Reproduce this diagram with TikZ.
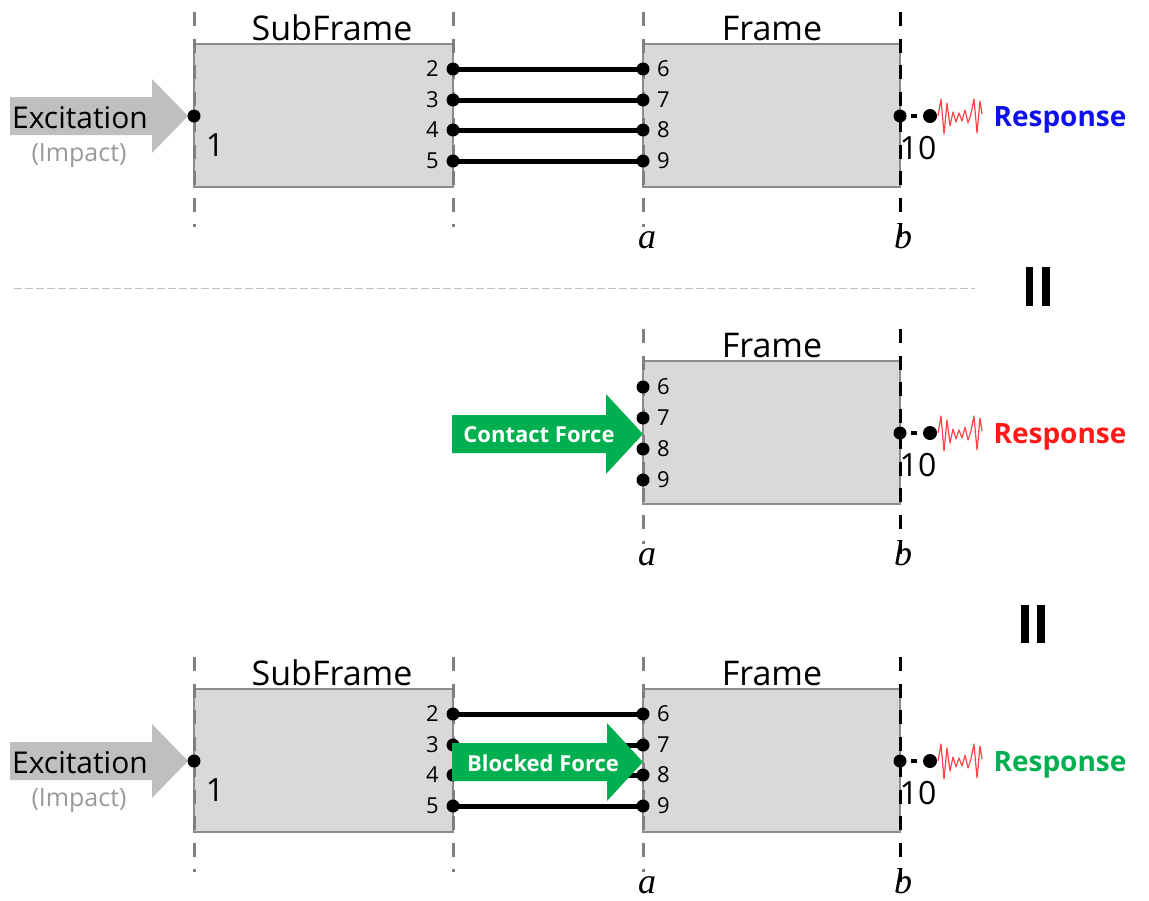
\documentclass[tikz,border=0pt]{standalone}
\usepackage{fontspec}
\setmainfont{Open Sans}
\newfontfamily\axfont{Liberation Serif}
\usetikzlibrary{calc}

\definecolor{boxfill}{HTML}{D9D9D9}
\definecolor{boxline}{HTML}{8C8C8C}
\definecolor{guide}{HTML}{808080}
\definecolor{excite}{HTML}{BFBFBF}
\definecolor{impact}{HTML}{999999}
\definecolor{force}{HTML}{00B050}
\definecolor{respblue}{HTML}{1010EE}
\definecolor{respred}{HTML}{FF1A1A}
\definecolor{wavered}{HTML}{FF4545}
\definecolor{sepline}{HTML}{C0C0C0}

\newcommand\fs[1]{\fontsize{#1}{#1}\selectfont}

\tikzset{
  blk/.style={draw=boxline, fill=boxfill, line width=2pt, minimum height=143pt, inner sep=0pt},
  title/.style={anchor=base, inner sep=0pt, font=\fs{34}},
  port/.style={circle, fill=black, inner sep=0pt, minimum size=13pt},
  tipdot/.style={circle, fill=black, inner sep=0pt, minimum size=14pt},
  num/.style={inner sep=0pt, font=\fs{22}},
  bignum/.style={inner sep=0pt, font=\fs{32}},
  link/.style={line width=5pt},
  tie/.style={line width=4pt, dash pattern=on 0pt off 4.5pt on 6pt off 4.5pt},
  guidegray/.style={draw=guide, line width=3pt, dash pattern=on 14pt off 12.5pt},
  guideblack/.style={draw=black, line width=3pt, dash pattern=on 14pt off 12.5pt},
  wave/.style={draw=wavered, line width=1.2pt, line join=round},
  resp/.style={anchor=base, inner sep=0pt, font=\fs{28}\bfseries},
  ax/.style={anchor=base, inner sep=0pt, font=\fs{36}\axfont\itshape},
  arrowtext/.style={inner sep=0pt, text=white, font=\fs{22}\bfseries},
  exc/.style={anchor=base, inner sep=0pt, font=\fs{30}},
  imp/.style={anchor=base, inner sep=0pt, font=\fs{25}, text=impact},
}

% vibration trace starting at a given coordinate
\newcommand\wiggle[1]{%
  \draw[wave] (#1) -- +(3,-17) -- +(6,18) -- +(9,-13) -- +(12,10) -- +(15,-4)
    -- +(18,6) -- +(21,-3) -- +(24,5) -- +(27,-6) -- +(30,7) -- +(33,-2)
    -- +(36,-17) -- +(39,17) -- +(42,-15) -- +(44,-2);}

% measured output at point 10 of the frame
\newcommand\response[2]{% #1 tag, #2 colour
  \node[port] (o10#1) at (900,116) {};
  \node[tipdot] (m#1) at (930,116) {};
  \draw[tie] (o10#1) -- (m#1);
  \coordinate (w#1) at (938,116);
  \wiggle{w#1}
  \node[resp, text=#2] (r#1) at (1060,126) {Response};
  \node[bignum] (n10#1) at (918,148) {10};}

% subframe coupled to frame through points 2-5 / 6-9
\newcommand\assembly[3]{% #1 tag, #2 vertical offset, #3 response colour
\begin{scope}[shift={(0,#2)}]
  \node[blk, minimum width=259pt] (sub#1) at (323.5,115.5) {};
  \node[blk, minimum width=257pt] (frm#1) at (771.5,115.5) {};
  \draw[guidegray] (194,12) -- (194,227);
  \draw[guidegray] (453,12) -- (453,227);
  \draw[guidegray] (643,12) -- (643,227);
  \draw[guideblack] (900,12) -- (900,237);
  \node[title] (subt#1) at (332,40) {SubFrame};
  \node[title] (frmt#1) at (772,40) {Frame};
  \fill[excite] (10,97) -- (152,97) -- (152,79) -- (188,116) -- (152,153)
    -- (152,135) -- (10,135) -- cycle;
  \node[exc] (ex#1) at (80,128) {Excitation};
  \node[imp] (im#1) at (79,161) {(Impact)};
  \node[port] (in#1) at (194,116) {};
  \node[bignum] (n1#1) at (215,145) {1};
  \foreach \k/\m/\y in {2/6/69,3/7/100,4/8/130,5/9/161}{
    \node[port] (s\k#1) at (453,\y) {};
    \node[port] (f\m#1) at (643,\y) {};
    \draw[link] (s\k#1.center) -- (f\m#1.center);
    \node[num, anchor=east] (ls\k#1) at (439,\y) {\k};
    \node[num, anchor=west] (lf\m#1) at (657,\y) {\m};
  }
  \response{#1}{#3}
  \node[ax] (a#1) at (647,248) {a};
  \node[ax] (b#1) at (903,248) {b};
\end{scope}}

\begin{document}
\begin{tikzpicture}[x=1pt, y=-1pt]
\useasboundingbox (0,0) rectangle (1149,900);

% full assembly
\assembly{A}{0}{respblue}

% divider and equivalence marks
\draw[sepline, line width=1pt, dash pattern=on 8pt off 3pt] (14,288) -- (975,288);
\fill (1026,267) rectangle (1033,306);
\fill (1042,267) rectangle (1050,306);
\fill (1021,605) rectangle (1029,643);
\fill (1037,605) rectangle (1045,643);

% frame alone, loaded by the contact force
\begin{scope}[shift={(0,317)}]
  \node[blk, minimum width=257pt] (frmB) at (771.5,115.5) {};
  \draw[guidegray] (643,12) -- (643,227);
  \draw[guideblack] (900,12) -- (900,237);
  \node[title] (frmtB) at (772,40) {Frame};
  \foreach \m/\y in {6/70,7/101,8/132,9/163}{
    \node[port] (f\m B) at (643,\y) {};
    \node[num, anchor=west] (lf\m B) at (657,\y) {\m};
  }
  \fill[force] (452,98) -- (606,98) -- (606,77) -- (643,117) -- (606,157)
    -- (606,136) -- (452,136) -- cycle;
  \node[arrowtext] (cf) at (539,118) {Contact Force};
  \response{B}{respred}
  \node[ax] (aB) at (647,248) {a};
  \node[ax] (bB) at (903,248) {b};
\end{scope}

% assembly with the blocked force
\assembly{C}{645}{force}
\fill[force] (452,743) -- (607,743) -- (607,723) -- (643,762) -- (607,801)
  -- (607,781) -- (452,781) -- cycle;
\node[arrowtext] (bf) at (543,763) {Blocked Force};
\end{tikzpicture}
\end{document}
